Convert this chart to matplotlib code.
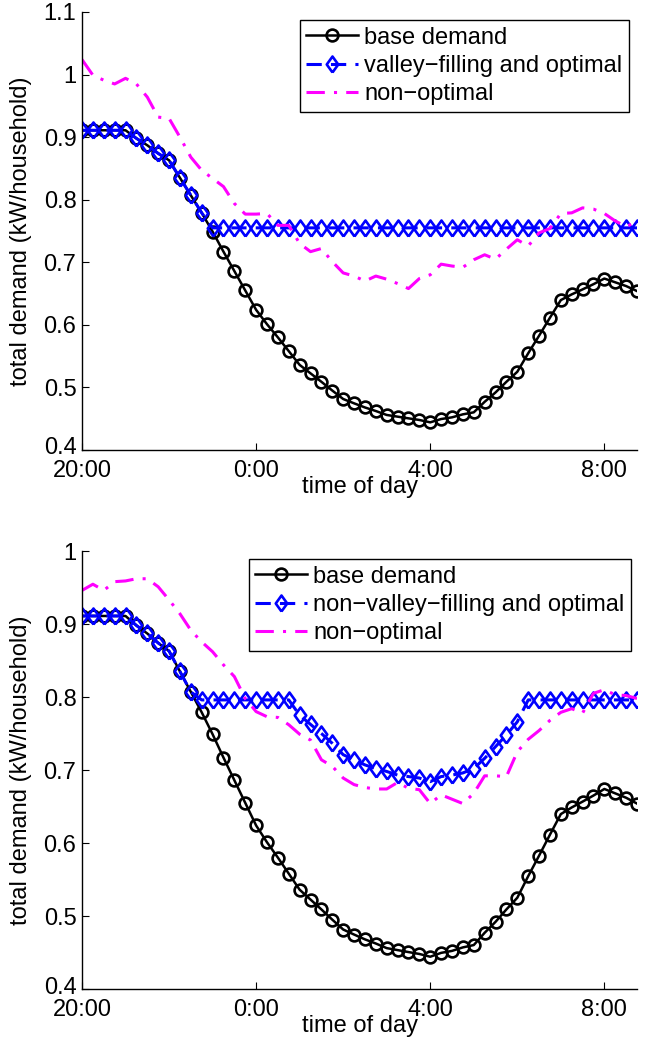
import matplotlib
matplotlib.use("Agg")
import matplotlib.pyplot as plt
import matplotlib.transforms as mtransforms
import numpy as np

plt.rcParams['font.family'] = ['Liberation Sans', 'DejaVu Sans']

# time axis: hours after 20:00, 15-minute steps (20:00 ... 8:45)
time_hours = [i * 0.25 for i in range(52)]
xtick_pos = [0, 4, 8, 12]
xtick_labels = ["20:00", "0:00", "4:00", "8:00"]

base_demand = [0.911, 0.911, 0.911, 0.911, 0.911, 0.898, 0.887, 0.874, 0.863, 0.835,
               0.807, 0.779, 0.749, 0.717, 0.686, 0.655, 0.624, 0.601, 0.580, 0.558,
               0.536, 0.5225, 0.509, 0.495, 0.4815, 0.4746, 0.468, 0.4623, 0.456, 0.4533,
               0.4506, 0.448, 0.4442, 0.4495, 0.4522, 0.457, 0.4602, 0.477, 0.492, 0.509,
               0.525, 0.5545, 0.5826, 0.6114, 0.6396, 0.6487, 0.6567, 0.665, 0.674, 0.668,
               0.662, 0.654]

valley_filling = [0.911, 0.911, 0.911, 0.911, 0.911, 0.898, 0.887, 0.874, 0.863, 0.835,
                  0.807, 0.779, 0.755, 0.755, 0.755, 0.755, 0.755, 0.755, 0.755, 0.755,
                  0.755, 0.755, 0.755, 0.755, 0.755, 0.755, 0.755, 0.755, 0.755, 0.755,
                  0.755, 0.755, 0.755, 0.755, 0.755, 0.755, 0.755, 0.755, 0.755, 0.755,
                  0.755, 0.755, 0.755, 0.755, 0.755, 0.755, 0.755, 0.755, 0.755, 0.755,
                  0.755, 0.755]

non_optimal_top = [1.024, 0.999, 0.991, 0.985, 0.994, 0.985, 0.964, 0.932, 0.930, 0.900,
                   0.868, 0.847, 0.834, 0.821, 0.794, 0.777, 0.777, 0.778, 0.759, 0.759,
                   0.730, 0.717, 0.722, 0.701, 0.683, 0.678, 0.670, 0.678, 0.673, 0.666,
                   0.658, 0.674, 0.680, 0.697, 0.694, 0.692, 0.704, 0.712, 0.705, 0.721,
                   0.736, 0.726, 0.747, 0.754, 0.778, 0.779, 0.787, 0.785, 0.778, 0.766,
                   0.757, 0.765]

non_valley_filling = [0.911, 0.911, 0.911, 0.911, 0.911, 0.898, 0.887, 0.874, 0.863, 0.835,
                      0.807, 0.796, 0.796, 0.796, 0.796, 0.796, 0.796, 0.796, 0.796, 0.796,
                      0.775, 0.7625, 0.750, 0.7365, 0.721, 0.714, 0.707, 0.702, 0.698, 0.693,
                      0.691, 0.689, 0.684, 0.691, 0.693, 0.696, 0.702, 0.716, 0.732, 0.748,
                      0.766, 0.796, 0.796, 0.796, 0.796, 0.796, 0.796, 0.796, 0.796, 0.796,
                      0.796, 0.796]

non_optimal_bottom = [0.946, 0.9545, 0.946, 0.958, 0.959, 0.962, 0.962, 0.951, 0.933, 0.914,
                      0.8915, 0.8755, 0.862, 0.844, 0.828, 0.798, 0.780, 0.773, 0.772, 0.762,
                      0.749, 0.741, 0.714, 0.705, 0.689, 0.680, 0.676, 0.674, 0.674, 0.683,
                      0.675, 0.673, 0.654, 0.666, 0.660, 0.654, 0.668, 0.692, 0.692, 0.691,
                      0.725, 0.742, 0.754, 0.768, 0.779, 0.784, 0.778, 0.805, 0.810, 0.803,
                      0.802, 0.798]

top_yticks = [0.4, 0.5, 0.6, 0.7, 0.8, 0.9, 1.0, 1.1]
top_ylabels = ["0.4", "0.5", "0.6", "0.7", "0.8", "0.9", "1", "1.1"]
bot_yticks = [0.4, 0.5, 0.6, 0.7, 0.8, 0.9, 1.0]
bot_ylabels = ["0.4", "0.5", "0.6", "0.7", "0.8", "0.9", "1"]

FS = 17
diamond = [(0, -1), (0.72, 0), (0, 1), (-0.72, 0), (0, -1)]

fig = plt.figure(figsize=(6.62, 10.46), dpi=100)
ax1 = fig.add_axes([82/662, 1-450/1046, 555/662, 438/1046])
ax2 = fig.add_axes([82/662, 1-989/1046, 555/662, 438/1046])


def draw(ax, blue, magenta, blue_label, yticks, ylabels, ylim, leg_anchor):
    ax.plot(time_hours, base_demand, color='black', lw=1.8, marker='o', ms=8.5,
            mfc='none', mec='black', mew=1.9, label='base demand')
    ax.plot(time_hours, blue, color='#0000ff', lw=2.2, ls=(0, (5, 3)), marker=diamond,
            ms=11.5, mfc='none', mec='#0000ff', mew=1.9, label=blue_label)
    ax.plot(time_hours, magenta, color='#ff00ff', lw=2.2, ls=(0, (6, 3, 1, 3)),
            label='non\u2212optimal')
    ax.set_xlim(0, 12.75)
    ax.set_ylim(*ylim)
    ax.set_xticks(xtick_pos)
    ax.set_xticklabels(xtick_labels)
    ax.set_yticks(yticks)
    ax.set_yticklabels(ylabels)
    for s in ['top', 'right']:
        ax.spines[s].set_visible(False)
    for s in ['left', 'bottom']:
        ax.spines[s].set_linewidth(1.0)
    ax.tick_params(direction='in', length=5, width=0.8, labelsize=FS)
    ax.tick_params(axis='x', pad=7)
    ax.tick_params(axis='y', pad=4)
    # lift the lowest y label slightly so it does not collide with "20:00"
    lowest = ax.get_yticklabels()[0]
    lowest.set_transform(lowest.get_transform() +
                         mtransforms.ScaledTranslation(0, 4/100, ax.figure.dpi_scale_trans))
    ax.set_xlabel('time of day', fontsize=FS, labelpad=-4)
    ax.set_ylabel('total demand (kW/household)', fontsize=FS, labelpad=8)
    leg = ax.legend(loc='upper right', bbox_to_anchor=leg_anchor, borderaxespad=0,
                    fontsize=FS, numpoints=1, handlelength=2.2, handletextpad=0.25,
                    labelspacing=0.26, borderpad=0.28, fancybox=False,
                    framealpha=1, edgecolor='black')
    leg.get_frame().set_linewidth(1.0)


draw(ax1, valley_filling, non_optimal_top, 'valley\u2212filling and optimal',
     top_yticks, top_ylabels, (0.4, 1.1), (0.9856, 0.9817))
draw(ax2, non_valley_filling, non_optimal_bottom, 'non\u2212valley\u2212filling and optimal',
     bot_yticks, bot_ylabels, (0.4, 1.0), (0.989, 0.9817))

fig.savefig('out.png', dpi=100)
